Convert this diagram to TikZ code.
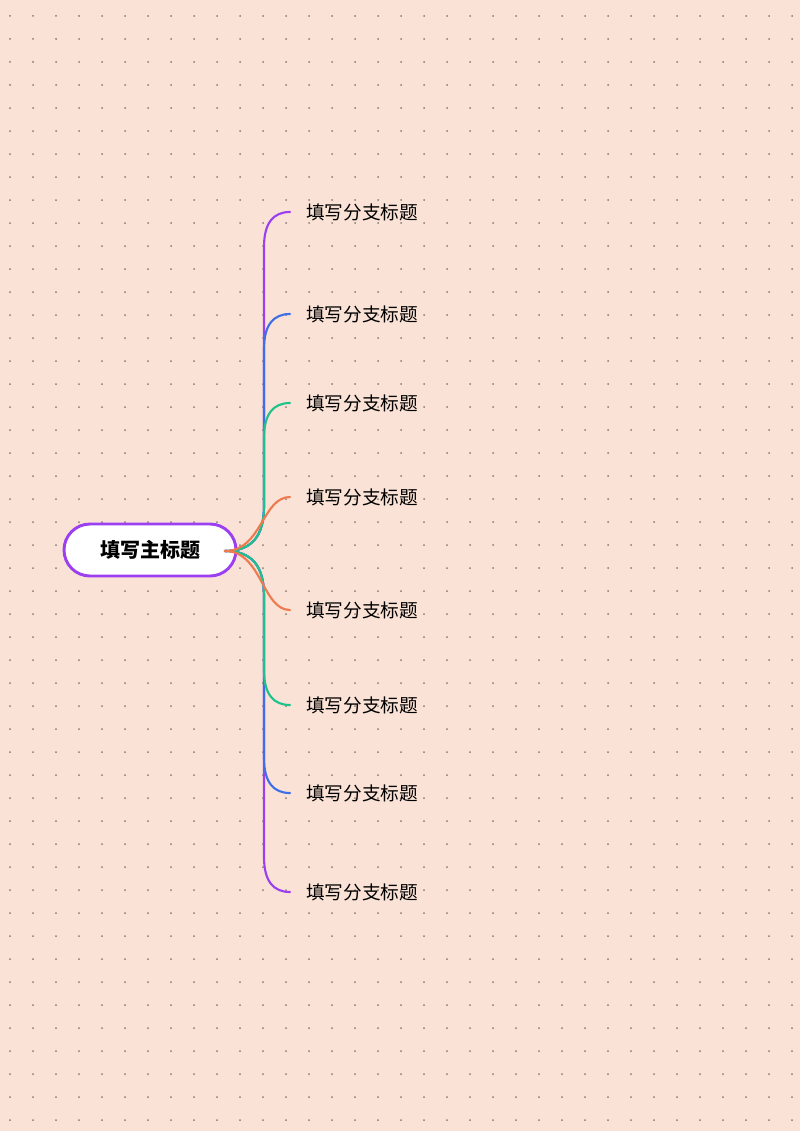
\documentclass[tikz,border=0pt]{standalone}
\usepackage{fontspec}
\setmainfont{Noto Sans CJK SC}
\usetikzlibrary{positioning}
\definecolor{bgpeach}{HTML}{FAE3D6}
\definecolor{dotgray}{HTML}{8A7A72}
\definecolor{mpurple}{HTML}{9B3FF0}
\definecolor{mblue}{HTML}{3F6FE8}
\definecolor{mgreen}{HTML}{1FC28A}
\definecolor{morange}{HTML}{F07A50}
\begin{document}
\begin{tikzpicture}[x=0.75pt,y=-0.75pt,
	root/.style={draw=mpurple, line width=2.2pt, fill=white, rounded corners=19.5pt,
		minimum width=129pt, minimum height=39pt, font=\bfseries\fontsize{15}{17}\selectfont},
	leaf/.style={anchor=west, inner sep=0pt, font=\fontsize{14}{16}\selectfont},
	branch/.style={line width=1.6pt, line cap=round}]
	\fill[bgpeach] (0,0) rectangle (800,1131);
	\useasboundingbox (0,0) rectangle (800,1131);
	% dot grid
	\foreach \gx in {10,33,...,800}
		\foreach \gy in {16,39,...,1131}
			\fill[dotgray] (\gx,\gy) circle (0.75pt);
	\node[root] (main) at (150,550) {填写主标题};
	\coordinate (hub) at (225,551);
	\foreach \by [count=\i] in {212,314,403,497,610,705,793,892} {
		\node[leaf] (sub\i) at (306,\by) {填写分支标题};
		\coordinate (tip\i) at (290,\by);
	}
	% outer branches first, inner ones on top
	\foreach \i/\by/\bc/\bs in {1/212/mpurple/-1, 8/892/mpurple/1, 2/314/mblue/-1, 7/793/mblue/1,
			3/403/mgreen/-1, 6/705/mgreen/1} {
		\draw[branch, \bc] (hub) .. controls (252,551) and (264,551+\bs*15) .. (264,551+\bs*45)
			-- (264,\by-\bs*35) .. controls (264,\by-\bs*10) and (274,\by) .. (tip\i);
	}
	\draw[branch, morange] (hub) .. controls (262,551) and (262,497) .. (tip4);
	\draw[branch, morange] (hub) .. controls (262,551) and (262,610) .. (tip5);
\end{tikzpicture}
\end{document}
